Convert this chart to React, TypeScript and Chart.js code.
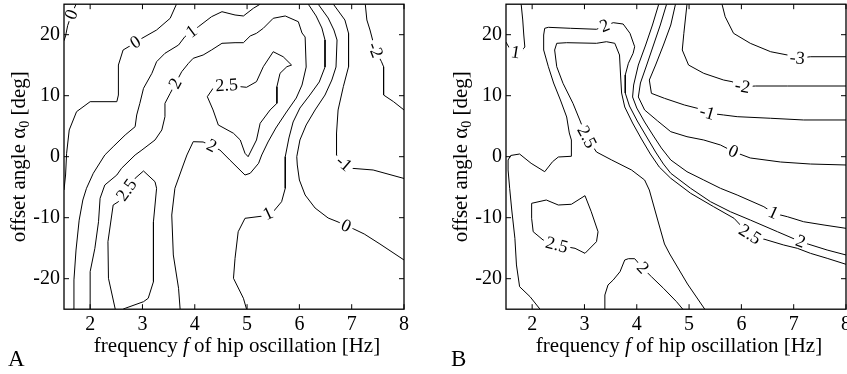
import React, { useEffect, useRef } from "react";
import { Chart, registerables } from "chart.js";

Chart.register(...registerables);

type Pt = [number, number];

const X_MIN = 1.5;
const X_MAX = 8;
const Y_MIN = -25;
const Y_MAX = 25;
const X_TICKS = [2, 3, 4, 5, 6, 7, 8];
const Y_TICKS = [-20, -10, 0, 10, 20];
const X_TITLE = ["frequency ", "f", " of hip oscillation [Hz]"];
const Y_TITLE = ["offset angle α", "0", " [deg]"];

// ---------- Panel A contour lines (x = Hz, y = deg) ----------
const A_ZERO_CORNER: Pt[] = [[1.73, 25], [1.64, 23.2], [1.57, 21.5], [1.53, 19.8], [1.5, 19.0]];
const A_ZERO_LEFT: Pt[] = [[1.5, -5.46], [1.53, -3.0], [1.55, 0.56], [1.6, 4.38], [1.74, 7.38], [2.0, 9.02], [2.51, 9.02], [2.54, 10.11], [2.54, 15.03], [2.63, 17.49], [2.79, 18.31], [2.99, 19.41], [3.27, 20.77], [3.53, 22.69], [3.65, 25]];
const A_ONE_LEFT: Pt[] = [[1.68, -25], [1.69, -20.2], [1.73, -15.3], [1.79, -10.4], [1.86, -7.1], [1.93, -5.18], [2.06, -2.72], [2.28, 0.28], [2.44, 1.64], [2.67, 3.56], [2.86, 4.92], [2.89, 6.84], [2.95, 8.75], [3.02, 11.21], [3.18, 13.67], [3.27, 15.57], [3.43, 16.95], [3.69, 18.31], [3.81, 19.67], [4.07, 21.31], [4.32, 22.95], [4.52, 23.77], [4.77, 23.23], [4.93, 23.07], [5.12, 24.33], [5.25, 25]];
const A_TWO: Pt[] = [[2.0, -25], [2.0, -18.85], [2.09, -15.02], [2.16, -10.66], [2.19, -6.82], [2.28, -4.64], [2.51, -3.0], [2.6, -1.9], [2.86, 0.28], [2.99, 1.1], [3.24, 2.74], [3.37, 4.38], [3.43, 6.56], [3.43, 8.75], [3.53, 10.39], [3.75, 13.93], [3.88, 15.31], [3.97, 16.13], [4.16, 16.67], [4.32, 17.49], [4.52, 18.59], [4.77, 18.69], [4.93, 18.69], [5.06, 19.79], [5.18, 20.23], [5.31, 21.05], [5.5, 22.69], [5.73, 23.07], [5.98, 22.13], [6.05, 20.28], [6.11, 19.62], [6.13, 14.7], [6.05, 11.75], [5.94, 9.62], [5.74, 7.16], [5.55, 4.7], [5.4, 2.41], [5.28, 0.28], [5.22, -1.08], [5.06, -2.72], [4.96, -3.0], [4.67, -0.54], [4.48, 1.1], [4.16, 2.41], [3.97, 2.46], [3.85, 0.28], [3.78, -1.36], [3.62, -5.18], [3.56, -9.56], [3.59, -16.11], [3.69, -21.57], [3.72, -25]];
const A_TWOFIVE_UP: Pt[] = [[4.24, 9.84], [4.35, 11.21], [4.61, 11.7], [4.99, 11.38], [5.18, 12.3], [5.31, 14.75], [5.5, 17.21], [5.69, 16.39], [5.85, 15.03], [5.76, 14.75], [5.63, 13.67], [5.57, 11.48], [5.57, 8.75], [5.44, 7.66], [5.25, 5.48], [5.18, 2.74], [5.02, 0], [4.96, 0.56], [4.87, 2.74], [4.74, 3.84], [4.45, 5.2], [4.35, 7.66], [4.24, 9.84]];
const A_TWOFIVE_LOW: Pt[] = [[2.48, -25], [2.35, -19.93], [2.34, -13.93], [2.44, -7.92], [2.54, -7.38], [2.86, -3.54], [3.02, -2.34], [3.24, -4.1], [3.27, -5.18], [3.21, -10.66], [3.21, -20.49], [3.11, -23.21], [3.02, -23.77], [2.67, -24.85], [2.63, -25]];
const A_ONE_RIGHT: Pt[] = [[6.17, 25], [6.32, 23.07], [6.43, 21.1], [6.49, 19.13], [6.49, 14.7], [6.38, 12.25], [6.2, 10.11], [6.01, 7.98], [5.88, 5.69], [5.8, 3.07], [5.73, 0], [5.73, -5.18], [5.66, -7.38], [5.5, -9.02], [5.31, -9.72], [4.96, -10.1], [4.83, -12.3], [4.77, -16.66], [4.74, -19.93], [4.93, -23.21], [4.99, -25]];
const A_ZERO_RIGHT: Pt[] = [[6.36, 25], [6.55, 22.74], [6.66, 20.77], [6.72, 19.13], [6.7, 14.7], [6.62, 12.57], [6.49, 10.11], [6.3, 7.66], [6.13, 5.2], [6.01, 2.74], [5.95, 0], [5.96, -1.36], [6.0, -3.82], [6.11, -6.28], [6.3, -8.41], [6.55, -10.05], [6.74, -10.7], [6.89, -11.36], [7.04, -11.85], [7.24, -12.67], [7.54, -14.31], [8.0, -16.93]];
const A_MINUS_ONE: Pt[] = [[6.65, 25], [6.87, 22.41], [6.94, 20.23], [6.94, 14.75], [6.84, 11.48], [6.74, 7.66], [6.71, 3.84], [6.71, 0.3], [6.78, -0.5], [6.88, -1.4], [7.0, -1.9], [7.41, -2.18], [8.0, -3.57]];
const A_MINUS_TWO: Pt[] = [[7.26, 25], [7.29, 22.41], [7.35, 20.77], [7.45, 17.49], [7.57, 15.57], [7.61, 14.75], [7.61, 10.11], [7.8, 9.02], [8.0, 7.66]];

// ---------- Panel B contour lines ----------
const B_ONE_CORNER: Pt[] = [[1.79, 25], [1.82, 22.41], [1.84, 19.95], [1.86, 17.98], [1.76, 17.0], [1.62, 17.16], [1.53, 18.31], [1.5, 18.8]];
const B_TWO: Pt[] = [[2.15, -25], [1.96, -22.95], [1.76, -21.31], [1.7, -17.75], [1.67, -13.38], [1.61, -8.74], [1.57, -5.18], [1.54, -2.18], [1.54, -0.54], [1.59, 0.2], [1.76, 0.44], [1.98, -1.08], [2.24, -2.46], [2.39, -0.82], [2.5, -0.05], [2.75, 0.07], [2.75, 2.74], [2.71, 3.89], [2.66, 6.51], [2.54, 9.3], [2.41, 12.08], [2.31, 14.75], [2.22, 17.49], [2.22, 19.95], [2.24, 21.05], [2.31, 21.21], [2.73, 21.05], [3.23, 20.89], [3.39, 21.43], [3.55, 21.97], [3.74, 21.75], [3.87, 20.23], [3.96, 18.03], [3.93, 16.95], [3.84, 15.31], [3.78, 13.39], [3.78, 10.44], [3.86, 8.31], [4.01, 5.85], [4.19, 3.23], [4.36, 0.77], [4.51, -1.2], [4.65, -2.72], [5.03, -5.18], [5.41, -7.38], [5.79, -9.02], [6.17, -10.38], [6.69, -12.3], [6.91, -13.11], [7.13, -13.93], [7.29, -14.36], [7.64, -15.3], [8.0, -16.11]];
const B_TWOFIVE: Pt[] = [[5.3, -25], [4.97, -20.87], [4.63, -15.95], [4.53, -14.31], [4.4, -10.38], [4.24, -5.46], [4.15, -3.82], [3.9, -2.18], [3.52, -0.54], [3.23, 0.77], [3.04, 3.23], [2.91, 6.02], [2.78, 8.75], [2.59, 12.03], [2.47, 14.75], [2.43, 17.49], [2.47, 18.59], [2.66, 18.69], [3.23, 18.59], [3.42, 18.85], [3.58, 18.59], [3.67, 16.67], [3.69, 13.39], [3.71, 10.44], [3.77, 8.15], [3.92, 5.52], [4.09, 2.9], [4.26, 0.44], [4.43, -1.69], [4.65, -3.54], [5.03, -6.0], [5.47, -8.2], [5.86, -10.1], [5.98, -11.2], [6.17, -12.84], [6.49, -13.66], [6.81, -14.48], [7.07, -15.02], [7.32, -15.84], [7.64, -16.66], [8.0, -17.64]];
const B_TWOFIVE_LOOP: Pt[] = [[1.99, -7.64], [2.27, -7.1], [2.5, -7.92], [2.75, -7.8], [3.01, -6.39], [3.13, -9.02], [3.26, -12.3], [3.23, -13.93], [3.01, -15.84], [2.82, -15.02], [2.47, -14.48], [2.21, -13.66], [2.02, -12.3], [1.99, -10.1], [1.99, -7.64]];
const B_TWO_BOTTOM: Pt[] = [[3.39, -25], [3.39, -22.67], [3.45, -21.03], [3.55, -20.21], [3.68, -18.85], [3.77, -16.93], [3.84, -16.72], [3.96, -16.72], [4.12, -18.3], [4.28, -19.67], [4.51, -21.57], [4.76, -23.77], [4.88, -25]];
const B_ONE: Pt[] = [[4.42, 25], [4.3, 21.59], [4.17, 18.31], [4.03, 15.03], [3.94, 11.75], [3.92, 9.79], [4.0, 7.98], [4.15, 5.69], [4.32, 3.39], [4.47, 1.43], [4.65, -0.54], [4.96, -2.46], [5.28, -3.82], [5.6, -5.18], [5.92, -6.28], [6.43, -8.2], [6.62, -9.28], [6.88, -9.84], [7.19, -10.66], [7.58, -11.2], [8.0, -11.74]];
const B_ZERO: Pt[] = [[4.57, 25], [4.45, 21.59], [4.32, 18.31], [4.19, 15.03], [4.07, 12.08], [4.03, 9.79], [4.15, 7.66], [4.4, 5.85], [4.65, 4.1], [4.96, 3.28], [5.28, 2.74], [5.6, 1.92], [5.85, 0.82], [6.17, -0.21], [6.75, -0.87], [7.32, -1.2], [8.0, -1.36]];
const B_MINUS_ONE: Pt[] = [[4.74, 25], [4.65, 21.59], [4.51, 18.31], [4.36, 15.03], [4.24, 12.57], [4.28, 10.39], [4.53, 9.57], [4.91, 8.48], [5.16, 7.93], [5.35, 7.16], [5.66, 6.84], [5.92, 6.56], [6.56, 6.3], [7.19, 6.02], [8.0, 6.02]];
const B_MINUS_TWO: Pt[] = [[4.96, 25], [4.9, 20.23], [4.87, 17.49], [4.99, 15.03], [5.28, 13.67], [5.66, 12.57], [5.82, 12.3], [6.02, 11.48], [6.27, 11.59], [6.88, 11.59], [8.0, 11.59]];
const B_MINUS_THREE: Pt[] = [[5.63, 25], [5.69, 22.95], [5.85, 20.23], [6.17, 18.59], [6.56, 17.21], [6.88, 16.67], [7.07, 16.13], [7.32, 16.39], [8.0, 16.39]];

interface Contour {
  level: string;
  pts: Pt[];
  labels: Pt[];
}

const PANEL_A: Contour[] = [
  { level: "0", pts: A_ZERO_CORNER, labels: [[1.64, 23.3]] },
  { level: "0", pts: A_ZERO_LEFT, labels: [[2.86, 18.85]] },
  { level: "1", pts: A_ONE_LEFT, labels: [[3.94, 20.5]] },
  { level: "2", pts: A_TWO, labels: [[3.63, 12.0], [4.32, 1.7]] },
  { level: "2.5", pts: A_TWOFIVE_UP, labels: [[4.61, 11.7]] },
  { level: "2.5", pts: A_TWOFIVE_LOW, labels: [[2.7, -5.46]] },
  { level: "1", pts: A_ONE_RIGHT, labels: [[5.4, -9.35]] },
  { level: "0", pts: A_ZERO_RIGHT, labels: [[6.89, -11.36]] },
  { level: "-1", pts: A_MINUS_ONE, labels: [[6.85, -1.1]] },
  { level: "-2", pts: A_MINUS_TWO, labels: [[7.45, 17.5]] },
];

const PANEL_B: Contour[] = [
  { level: "1", pts: B_ONE_CORNER, labels: [[1.68, 17.1]] },
  { level: "2", pts: B_TWO, labels: [[3.39, 21.4], [7.13, -13.9]] },
  { level: "2.5", pts: B_TWOFIVE, labels: [[3.04, 3.2], [6.17, -12.7]] },
  { level: "2.5", pts: B_TWOFIVE_LOOP, labels: [[2.47, -14.5]] },
  { level: "2", pts: B_TWO_BOTTOM, labels: [[4.12, -18.2]] },
  { level: "1", pts: B_ONE, labels: [[6.62, -9.1]] },
  { level: "0", pts: B_ZERO, labels: [[5.85, 0.9]] },
  { level: "-1", pts: B_MINUS_ONE, labels: [[5.35, 7.3]] },
  { level: "-2", pts: B_MINUS_TWO, labels: [[6.02, 11.5]] },
  { level: "-3", pts: B_MINUS_THREE, labels: [[7.07, 16.2]] },
];

const FONT = '"Liberation Serif", "Times New Roman", serif';
const LABEL_SIZE = 18;
const CANVAS_H = 374;
const PLOT_LEFT = 64;
const PLOT_RIGHT = 404;
const PLOT_TOP = 4.2;
const PLOT_BOTTOM = 309.2;

type Placed = { x: number; y: number; a: number };

function placeLabels(chart: any, c: Contour): Placed[] {
  const xs = chart.scales.x;
  const ys = chart.scales.y;
  const pts = c.pts.map(([x, y]) => [xs.getPixelForValue(x), ys.getPixelForValue(y)]);
  const cum: number[] = [0];
  for (let i = 1; i < pts.length; i++) {
    cum.push(cum[i - 1] + Math.hypot(pts[i][0] - pts[i - 1][0], pts[i][1] - pts[i - 1][1]));
  }
  const total = cum[cum.length - 1];
  const at = (s: number) => {
    s = Math.max(0, Math.min(total, s));
    for (let i = 1; i < pts.length; i++) {
      if (cum[i] >= s) {
        const seg = cum[i] - cum[i - 1] || 1;
        const t = (s - cum[i - 1]) / seg;
        return [pts[i - 1][0] + t * (pts[i][0] - pts[i - 1][0]), pts[i - 1][1] + t * (pts[i][1] - pts[i - 1][1])];
      }
    }
    return pts[pts.length - 1];
  };
  return c.labels.map(([lx, ly]) => {
    const px = xs.getPixelForValue(lx);
    const py = ys.getPixelForValue(ly);
    let best = Infinity;
    let bs = 0;
    let bx = px;
    let by = py;
    for (let i = 0; i < pts.length - 1; i++) {
      const [x1, y1] = pts[i];
      const [x2, y2] = pts[i + 1];
      const dx = x2 - x1;
      const dy = y2 - y1;
      const L = dx * dx + dy * dy || 1;
      let t = ((px - x1) * dx + (py - y1) * dy) / L;
      t = Math.max(0, Math.min(1, t));
      const qx = x1 + t * dx;
      const qy = y1 + t * dy;
      const d = (qx - px) ** 2 + (qy - py) ** 2;
      if (d < best) {
        best = d;
        bx = qx;
        by = qy;
        bs = cum[i] + t * Math.sqrt(L);
      }
    }
    const p1 = at(bs - 9);
    const p2 = at(bs + 9);
    let a = Math.atan2(p2[1] - p1[1], p2[0] - p1[0]);
    if (a > Math.PI / 2) a -= Math.PI;
    if (a <= -Math.PI / 2) a += Math.PI;
    return { x: bx, y: by, a };
  });
}

function makeDeco(contours: Contour[], letter: string, letterX: number) {
  return {
    id: "contourDeco",
    beforeDatasetDraw(chart: any, args: any) {
      const ctx = chart.ctx;
      ctx.save();
      const c = contours[args.index];
      if (!c || !c.labels.length) return;
      ctx.font = `${LABEL_SIZE}px ${FONT}`;
      const w = ctx.measureText(c.level).width + 5;
      const h = 12;
      ctx.beginPath();
      ctx.rect(0, 0, chart.width, chart.height);
      for (const p of placeLabels(chart, c)) {
        const cos = Math.cos(p.a);
        const sin = Math.sin(p.a);
        const corners = [
          [-w / 2, -h / 2],
          [w / 2, -h / 2],
          [w / 2, h / 2],
          [-w / 2, h / 2],
        ].map(([u, v]) => [p.x + u * cos - v * sin, p.y + u * sin + v * cos]);
        ctx.moveTo(corners[0][0], corners[0][1]);
        for (let i = 1; i < 4; i++) ctx.lineTo(corners[i][0], corners[i][1]);
        ctx.closePath();
      }
      ctx.clip("evenodd");
    },
    afterDatasetDraw(chart: any) {
      chart.ctx.restore();
    },
    afterDraw(chart: any) {
      const ctx = chart.ctx;
      const { left, right, top, bottom } = chart.chartArea;
      const xs = chart.scales.x;
      const ys = chart.scales.y;
      ctx.save();
      ctx.fillStyle = "#000";
      ctx.strokeStyle = "#000";

      // contour labels
      ctx.font = `${LABEL_SIZE}px ${FONT}`;
      ctx.textAlign = "center";
      ctx.textBaseline = "middle";
      for (const c of contours) {
        for (const p of placeLabels(chart, c)) {
          ctx.save();
          ctx.translate(p.x, p.y);
          ctx.rotate(p.a);
          ctx.fillText(c.level, 0, 0.5);
          ctx.restore();
        }
      }

      // frame
      ctx.lineWidth = 1.3;
      ctx.strokeRect(left, top, right - left, bottom - top);

      // inward ticks on all four sides
      ctx.lineWidth = 1;
      ctx.beginPath();
      for (const v of X_TICKS) {
        const x = xs.getPixelForValue(v);
        ctx.moveTo(x, bottom);
        ctx.lineTo(x, bottom - 5);
        ctx.moveTo(x, top);
        ctx.lineTo(x, top + 5);
      }
      for (const v of Y_TICKS) {
        const y = ys.getPixelForValue(v);
        ctx.moveTo(left, y);
        ctx.lineTo(left + 5, y);
        ctx.moveTo(right, y);
        ctx.lineTo(right - 5, y);
      }
      ctx.stroke();

      // x-axis title
      ctx.textAlign = "left";
      ctx.textBaseline = "alphabetic";
      const fN = `21px ${FONT}`;
      const fI = `italic 21px ${FONT}`;
      const xFonts = [fN, fI, fN];
      const xW = X_TITLE.map((t, i) => {
        ctx.font = xFonts[i];
        return ctx.measureText(t).width;
      });
      let cx = (left + right) / 2 + 3 - xW.reduce((a, b) => a + b, 0) / 2;
      X_TITLE.forEach((t, i) => {
        ctx.font = xFonts[i];
        ctx.fillText(t, cx, 352);
        cx += xW[i];
      });

      // y-axis title (rotated)
      ctx.save();
      ctx.translate(left - 39, (top + bottom) / 2);
      ctx.rotate(-Math.PI / 2);
      const yFonts = [fN, `14px ${FONT}`, fN];
      const yOff = [0, 4, 0];
      const yW = Y_TITLE.map((t, i) => {
        ctx.font = yFonts[i];
        return ctx.measureText(t).width;
      });
      let cy = -yW.reduce((a, b) => a + b, 0) / 2;
      Y_TITLE.forEach((t, i) => {
        ctx.font = yFonts[i];
        ctx.fillText(t, cy, yOff[i]);
        cy += yW[i];
      });
      ctx.restore();

      // panel letter
      ctx.font = `23px ${FONT}`;
      ctx.fillText(letter, letterX, 366);
      ctx.restore();
    },
  };
}

function Panel(props: { contours: Contour[]; letter: string; letterX: number; left: number; width: number }) {
  const ref = useRef<HTMLCanvasElement | null>(null);
  const { contours, letter, letterX, left, width } = props;
  useEffect(() => {
    if (!ref.current) return;
    const tickFont = { family: FONT, size: 20 };
    const chart = new Chart(ref.current, {
      type: "scatter",
      data: {
        datasets: contours.map((c) => ({
          data: c.pts.map(([x, y]) => ({ x, y })),
          showLine: true,
          borderColor: "#000",
          borderWidth: 1,
          pointRadius: 0,
          pointHoverRadius: 0,
          fill: false,
          tension: 0,
        })),
      },
      options: {
        responsive: false,
        animation: false,
        events: [],
        layout: { padding: { top: PLOT_TOP, right: width - PLOT_RIGHT, bottom: 0, left: 0 } },
        plugins: { legend: { display: false }, tooltip: { enabled: false } },
        scales: {
          x: {
            type: "linear",
            position: "bottom",
            min: X_MIN,
            max: X_MAX,
            grid: { display: false, drawTicks: false },
            border: { display: false },
            ticks: { font: tickFont, color: "#000", padding: 4, maxRotation: 0, autoSkip: false },
            afterBuildTicks: (s: any) => {
              s.ticks = X_TICKS.map((v) => ({ value: v }));
            },
            afterFit: (s: any) => {
              s.height = CANVAS_H - PLOT_BOTTOM;
              s.paddingLeft = 0;
              s.paddingRight = 0;
            },
          },
          y: {
            type: "linear",
            position: "left",
            min: Y_MIN,
            max: Y_MAX,
            grid: { display: false, drawTicks: false },
            border: { display: false },
            ticks: { font: tickFont, color: "#000", padding: 4, autoSkip: false },
            afterBuildTicks: (s: any) => {
              s.ticks = Y_TICKS.map((v) => ({ value: v }));
            },
            afterFit: (s: any) => {
              s.width = PLOT_LEFT;
              s.paddingTop = 0;
              s.paddingBottom = 0;
            },
          },
        },
      } as any,
      plugins: [makeDeco(contours, letter, letterX)],
    });
    return () => chart.destroy();
  }, []);
  return (
    <canvas
      ref={ref}
      width={width}
      height={CANVAS_H}
      style={{ position: "absolute", left, top: 0, width, height: CANVAS_H }}
    />
  );
}

export default function App() {
  return (
    <div style={{ position: "absolute", left: 0, top: 0, width: 847, height: CANVAS_H, background: "#fff", overflow: "hidden" }}>
      <Panel contours={PANEL_A} letter="A" letterX={8} left={0} width={424} />
      <Panel contours={PANEL_B} letter="B" letterX={9} left={442} width={405} />
    </div>
  );
}
